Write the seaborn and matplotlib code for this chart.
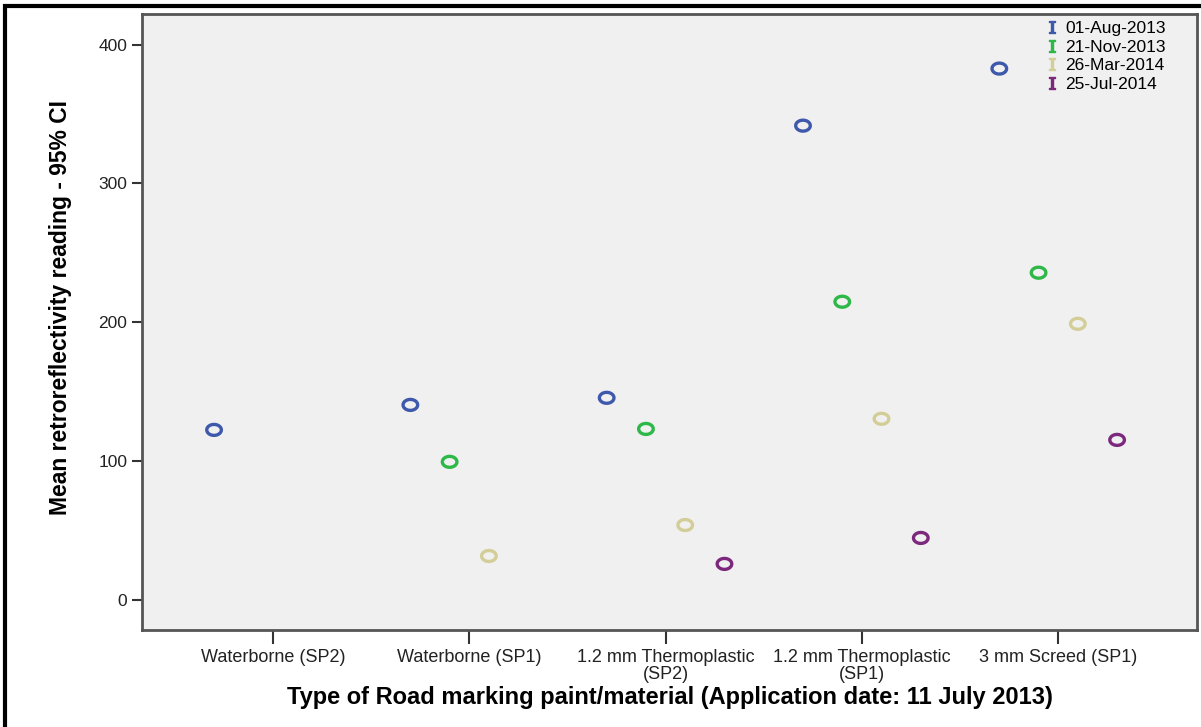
import numpy as np
import pandas as pd
import matplotlib.pyplot as plt
import seaborn as sns
from matplotlib.lines import Line2D
from matplotlib.patches import Rectangle
from matplotlib.path import Path

# values
materials = ["Waterborne (SP2)", "Waterborne (SP1)", "1.2 mm Thermoplastic\n(SP2)",
             "1.2 mm Thermoplastic\n(SP1)", "3 mm Screed (SP1)"]
dates = ["01-Aug-2013", "21-Nov-2013", "26-Mar-2014", "25-Jul-2014"]
aug_2013 = [122.5, 140.5, 145.6, 341.6, 382.7]
nov_2013 = [np.nan, 99.5, 123.2, 214.8, 235.7]
mar_2014 = [np.nan, 31.7, 54.0, 130.5, 198.9]
jul_2014 = [np.nan, np.nan, 26.0, 44.7, 115.3]
colors = ["#3E58AC", "#2EB848", "#D3CE97", "#7C287D"]

df = pd.DataFrame({
    "material": materials * 4,
    "date": np.repeat(dates, len(materials)),
    "value": aug_2013 + nov_2013 + mar_2014 + jul_2014,
}).dropna()

sns.set_style("white")
plt.rcParams["font.family"] = ["Liberation Sans", "DejaVu Sans"]
plt.rcParams["text.color"] = "black"
plt.rcParams["axes.labelcolor"] = "black"

fig = plt.figure(figsize=(12.01, 7.27), dpi=100)
ax = fig.add_axes([142 / 1201, 1 - 630 / 727, (1197 - 142) / 1201, (630 - 14) / 727])
ax.set_facecolor("#F0F0F0")

# slightly wide ellipse like the SPSS markers
t = np.linspace(0, 2 * np.pi, 60)
ellipse = Path(np.column_stack([np.cos(t), 0.75 * np.sin(t)]), closed=True)

sns.stripplot(data=df, x="material", y="value", hue="date", order=materials,
              hue_order=dates, palette=colors, dodge=True, jitter=False,
              marker=ellipse, size=10.5, legend=False, ax=ax)

for coll in ax.collections:
    fc = coll.get_facecolor()
    coll.set_edgecolor(fc)
    coll.set_facecolor("none")
    coll.set_linewidth(2.4)

ax.set_xlim(-0.667, 4.707)
ax.set_ylim(-21.6, 422)
ax.set_yticks([0, 100, 200, 300, 400])
ax.tick_params(axis="y", labelsize=12.5, length=7, width=1.5, color="#333333",
               labelcolor="#222222", left=True)
ax.tick_params(axis="x", labelsize=13, length=10, width=1.5, color="#333333",
               labelcolor="#222222", bottom=True, pad=4)
for lbl in ax.get_xticklabels():
    lbl.set_linespacing(1.0)

for s in ax.spines.values():
    s.set_visible(True)
    s.set_color("#555555")
    s.set_linewidth(2)

ax.set_xlabel("Type of Road marking paint/material (Application date: 11 July 2013)",
              fontsize=17, fontweight="bold", labelpad=2)
ax.set_ylabel("Mean retroreflectivity reading - 95% CI", fontsize=16.5,
              fontweight="bold")
ax.yaxis.set_label_coords(-0.066, 0.524)

handles = [Line2D([], [], linestyle="none", marker="$\\mathtt{I}$", markersize=9,
                  color=c) for c in colors]
fig.legend(handles, dates, loc="upper left", bbox_to_anchor=(1036 / 1201, 1 - 14 / 727),
           frameon=False, fontsize=12.5, handlelength=1.0, handletextpad=0.3,
           labelspacing=0.2, borderaxespad=0)

# outer frame of the exported picture
fig.add_artist(Rectangle((5 / 1201, -0.1), 1.2, 1.1 - 6 / 727, transform=fig.transFigure,
                         fill=False, edgecolor="black", linewidth=3))

fig.savefig("out.png", dpi=100)
